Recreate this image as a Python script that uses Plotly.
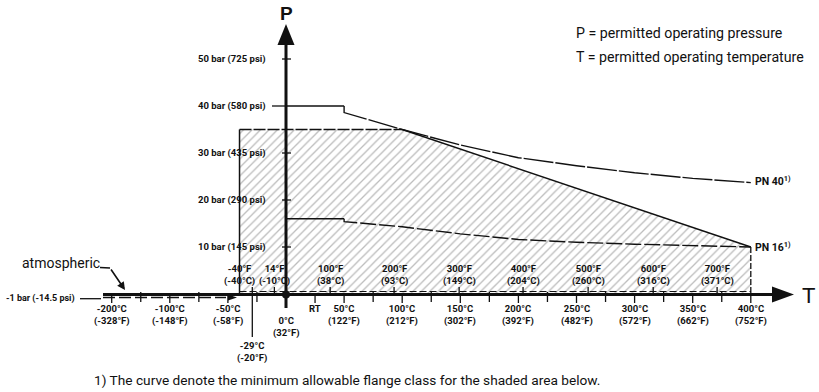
import plotly.graph_objects as go

# ---------------- data ----------------
# flange class ratings: permitted pressure (bar) vs temperature (°C)
PN40_T = [0, 50, 50, 100, 150, 200, 250, 300, 350, 400]
PN40_P = [40, 40, 38.6, 35.0, 31.7, 29.0, 27.3, 25.8, 24.6, 23.7]
PN16_T = [0, 50, 50, 100, 150, 200, 250, 300, 350, 400]
PN16_P = [16, 16, 15.4, 14.3, 12.8, 11.6, 11.0, 10.6, 10.3, 10.0]

# shaded (permitted) operating area
RANGE_T = [-40, -40, 100, 400, 400]
RANGE_P = [0, 35, 35, 10, 0]

# pressure axis
P_TICKS = [50, 40, 30, 20, 10, -1]
P_LABELS = ["50 bar (725 psi)", "40 bar (580 psi)", "30 bar (435 psi)",
            "20 bar (290 psi)", "10 bar (145 psi)", "-1 bar (-14.5 psi)"]

# temperature axis: Celsius ticks (labelled below)
C_TICKS = [-200, -100, -50, -29, 0, 25, 50, 100, 150, 200, 250, 300, 350, 400]
C_LABELS = ["-200°C<br>(-328°F)", "-100°C<br>(-148°F)", "-50°C<br>(-58°F)",
            "-29°C<br>(-20°F)", "0°C<br>(32°F)", "RT", "50°C<br>(122°F)",
            "100°C<br>(212°F)", "150°C<br>(302°F)", "200°C<br>(392°F)",
            "250°C<br>(482°F)", "300°C<br>(572°F)", "350°C<br>(662°F)",
            "400°C<br>(752°F)"]
C_MINOR = [-150, -75, -25, 75, 125, 175, 225, 275, 325, 375]
# Fahrenheit ticks (labelled above), placed at their Celsius equivalents
F_TICKS = [-40, -10, 38, 93, 149, 204, 260, 316, 371]
F_LABELS = ["-40°F<br>(-40°C)", "14°F<br>(-10°C)", "100°F<br>(38°C)",
            "200°F<br>(93°C)", "300°F<br>(149°C)", "400°F<br>(204°C)",
            "500°F<br>(260°C)", "600°F<br>(316°C)", "700°F<br>(371°C)"]

# ---------------- scales ----------------
W, H = 819, 392
X0, SX = 286, 1.162      # pixel of 0 °C, pixels per °C
Y0, SY = 294, 4.7        # pixel of 0 bar, pixels per bar


def pos(t):
    """Temperature to axis position; the range below -100 °C is compressed."""
    return t if t >= -100 else -100 + 0.5 * (t + 100)


def px(x):
    return (x - X0) / SX


def py(y):
    return (Y0 - y) / SY


FONT = "Roboto, Liberation Sans, sans-serif"
BLACK = "#111111"

fig = go.Figure()

# shaded operating area
fig.add_trace(go.Scatter(
    x=[pos(t) for t in RANGE_T], y=RANGE_P, mode="lines", fill="toself",
    fillcolor="rgba(0,0,0,0)",
    fillpattern=dict(shape="/", fgcolor="#7a7a7a", bgcolor="white", size=6, solidity=0.22),
    line=dict(width=0), hoverinfo="skip"))


def seg(ts, ps, width=1.3, dash="solid"):
    fig.add_trace(go.Scatter(x=[pos(t) for t in ts], y=ps, mode="lines",
                             line=dict(color=BLACK, width=width, dash=dash),
                             hoverinfo="skip"))


# borders of the shaded area
seg(RANGE_T[0:2], RANGE_P[0:2], 1.5)
seg(RANGE_T[1:3], RANGE_P[1:3], 1.3, "12px,2px")
seg(RANGE_T[2:4], RANGE_P[2:4], 1.4)
seg(RANGE_T[3:5], RANGE_P[3:5], 1.3, "6px,2px")
seg([RANGE_T[0], RANGE_T[3]], [py(291.5)] * 2, 1.2, "7px,3px")

# flange class curves
seg(PN40_T[:2], PN40_P[:2], 1.4)
seg(PN40_T[1:], PN40_P[1:], 1.4, "30px,2px")
seg(PN16_T[:2], PN16_P[:2], 1.4)
seg(PN16_T[1:], PN16_P[1:], 1.4, "16px,3px")

# temperature axis line
fig.add_trace(go.Scatter(x=[px(103), px(775)], y=[py(294.5)] * 2, mode="lines",
                         line=dict(color=BLACK, width=3), hoverinfo="skip"))
fig.add_trace(go.Scatter(x=[px(103), px(226)], y=[py(297.5)] * 2, mode="lines",
                         line=dict(color=BLACK, width=1.3, dash="12px,4px"),
                         hoverinfo="skip"))
# pressure axis line
fig.add_trace(go.Scatter(x=[0, 0], y=[py(308), py(40)], mode="lines",
                         line=dict(color=BLACK, width=3), hoverinfo="skip"))


def ticks(xs, y_top, y_bot, width=1.3):
    xx, yy = [], []
    for x in xs:
        xx += [x, x, None]
        yy += [py(y_top), py(y_bot), None]
    fig.add_trace(go.Scatter(x=xx, y=yy, mode="lines",
                             line=dict(color=BLACK, width=width), hoverinfo="skip"))


ticks([pos(t) for t in C_TICKS if t not in (0, -29)], 294, 303)
ticks([pos(-29)], 287, 337)
ticks([pos(t) for t in C_MINOR], 292, 302)
ticks([pos(t) for t in F_TICKS if t != -40], 287, 295)

# pressure ticks
pt_x, pt_y = [], []
for p in P_TICKS:
    if p == 40:
        pt_x += [px(272), 0, None]
    elif p == -1:
        pt_x += [px(80), px(101), None]
    else:
        pt_x += [px(282), px(291), None]
    pt_y += [p, p, None]
fig.add_trace(go.Scatter(x=pt_x, y=pt_y, mode="lines",
                         line=dict(color=BLACK, width=1.3), hoverinfo="skip"))

# origin dot
fig.add_trace(go.Scatter(x=[0], y=[py(294.5)], mode="markers",
                         marker=dict(color=BLACK, size=8), hoverinfo="skip"))

annotations = []


def text(x, y, s, size=10, xanchor="center", yanchor="middle", bold=True, family=FONT):
    annotations.append(dict(
        x=x, y=y, xref="x", yref="y", text=f"<b>{s}</b>" if bold else s,
        showarrow=False, xanchor=xanchor, yanchor=yanchor,
        align=xanchor if xanchor != "auto" else "center",
        font=dict(family=family, size=size, color=BLACK)))


for p, lab in zip(P_TICKS, P_LABELS):
    if p == -1:
        text(px(77), p, lab, 9, xanchor="right")
    else:
        text(px(268), p, lab, 9.5, xanchor="right")

for t, lab in zip(C_TICKS, C_LABELS):
    if t == 0:
        text(pos(t), py(313), lab, 9.5, yanchor="top")
    elif t == -29:
        text(pos(t), py(338), lab, 9.5, yanchor="top")
    else:
        text(pos(t), py(301), lab, 9.5, yanchor="top")

for t, lab in zip(F_TICKS, F_LABELS):
    text(pos(t), py(289), lab, 9.5, yanchor="bottom")

text(px(753), PN40_P[-1] + 0.3, "PN 40<sup>1)</sup>", 10.5, xanchor="left")
text(px(753), PN16_P[-1] + 0.1, "PN 16<sup>1)</sup>", 10.5, xanchor="left")

text(0, py(13), "P", 19, bold=True, family="Liberation Sans, Arial, sans-serif")
text(px(808), py(295), "T", 22, bold=False, family="Liberation Sans, Arial, sans-serif")

text(px(574), py(33), "P = permitted operating pressure", 14.2, xanchor="left", bold=False)
text(px(574), py(57), "T = permitted operating temperature", 14.2, xanchor="left", bold=False)

text(px(92), py(380), "1) The curve denote the minimum allowable flange class for the shaded area below.",
     13.7, xanchor="left", bold=False)

text(px(20), py(263), "atmospheric", 14, xanchor="left", bold=False)

# arrow from the "atmospheric" note to the axis
annotations.append(dict(x=px(125), y=py(290), xref="x", yref="y", ax=px(110), ay=py(268),
                        axref="x", ayref="y", showarrow=True, arrowhead=2, arrowsize=1,
                        arrowwidth=1.6, arrowcolor=BLACK, text=""))

# arrowheads of both axes and the small one on the negative range
shapes = [
    dict(type="path", xref="x", yref="y", fillcolor=BLACK, line=dict(width=0),
         path=f"M {px(772)},{py(286.5)} L {px(794)},{py(294.5)} L {px(772)},{py(302.5)} Z"),
    dict(type="path", xref="x", yref="y", fillcolor=BLACK, line=dict(width=0),
         path=f"M {px(277.5)},{py(45)} L {px(286)},{py(24)} L {px(294.5)},{py(45)} Z"),
    dict(type="path", xref="x", yref="y", fillcolor=BLACK, line=dict(width=0),
         path=f"M {px(228)},{py(294.5)} L {px(237)},{py(297.5)} L {px(228)},{py(300.5)} Z"),
    dict(type="line", xref="x", yref="y", x0=px(100), x1=px(110), y0=py(267.5), y1=py(268),
         line=dict(color=BLACK, width=1.6)),
]

fig.update_layout(
    width=W, height=H, autosize=False,
    margin=dict(l=0, r=0, t=0, b=0, pad=0),
    paper_bgcolor="white", plot_bgcolor="white",
    showlegend=False,
    xaxis=dict(range=[px(0), px(W)], visible=False, fixedrange=True),
    yaxis=dict(range=[py(H), py(0)], visible=False, fixedrange=True),
    annotations=annotations, shapes=shapes,
)

fig.write_html("out.html", config={"displayModeBar": False})
